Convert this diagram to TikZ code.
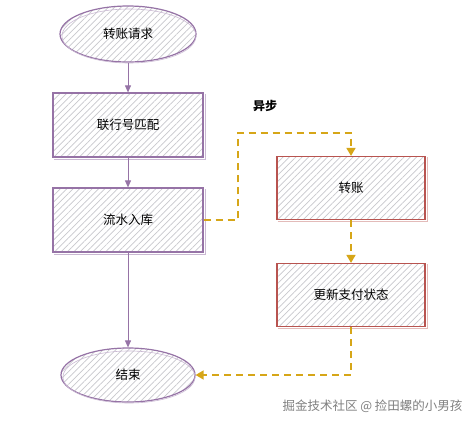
\documentclass[tikz,border=0pt]{standalone}
\usepackage{fontspec}
\setmainfont{Noto Sans CJK SC}
\usetikzlibrary{patterns.meta,arrows.meta,shapes.geometric}
\definecolor{purp}{RGB}{150,115,166}
\definecolor{redb}{RGB}{184,84,80}
\definecolor{gold}{RGB}{214,166,24}
\definecolor{hatch}{RGB}{200,200,205}
\tikzset{
  base/.style={minimum width=150pt,minimum height=64pt,pattern={Lines[angle=45,distance=4.5pt,line width=0.7pt]},pattern color=hatch,line width=1.2pt,font=\fontsize{12.5pt}{14pt}\selectfont,inner sep=0pt},
  pbox/.style={base,draw=purp},
  rbox/.style={base,draw=redb,minimum width=148pt,minimum height=63pt},
  pell/.style={base,draw=purp,ellipse,minimum width=136pt,minimum height=56pt},
  parr/.style={draw=purp,line width=0.9pt,-{Triangle[length=7pt,width=6pt]}},
  garr/.style={draw=gold,line width=1.6pt,dash pattern=on 7pt off 5pt,-{Triangle[length=8pt,width=9pt]}},
}
\begin{document}
\begin{tikzpicture}[x=1pt,y=-1pt]
\useasboundingbox (0,0) rectangle (473,421);
\fill[white] (0,0) rectangle (473,421);
\node[pell] (start) at (128,34) {转账请求};
\node[pbox] (match) at (128,125) {联行号匹配};
\node[pbox] (store) at (128,220) {流水入库};
\node[pell,minimum width=134pt,minimum height=54pt] (end) at (128,375) {结束};
\node[rbox] (trans) at (351,188) {转账};
\node[rbox] (upd) at (351,295) {更新支付状态};
\node[font=\bfseries\fontsize{12pt}{14pt}\selectfont] (async) at (265,106) {异步};
\node[text=gray,font=\fontsize{12.5pt}{14pt}\selectfont,anchor=east] (wm) at (466,406) {掘金技术社区 @ 捡田螺的小男孩};
% sketch offsets
\draw[purp!50,line width=0.6pt] ([shift={(1.5,1.5)}]match.south west) -- ([shift={(1.5,1.5)}]match.south east) -- ([shift={(1.5,1.5)}]match.north east);
\draw[purp!50,line width=0.6pt] ([shift={(1.5,1.5)}]store.south west) -- ([shift={(1.5,1.5)}]store.south east) -- ([shift={(1.5,1.5)}]store.north east);
\draw[redb!40,line width=0.6pt] ([shift={(1.5,1.5)}]trans.south west) -- ([shift={(1.5,1.5)}]trans.south east) -- ([shift={(1.5,1.5)}]trans.north east);
\draw[redb!40,line width=0.6pt] ([shift={(1.5,1.5)}]upd.south west) -- ([shift={(1.5,1.5)}]upd.south east) -- ([shift={(1.5,1.5)}]upd.north east);
\draw[purp!50,line width=0.6pt] ([shift={(1,2)}]start.center) ellipse (67pt and 27pt);
\draw[purp!50,line width=0.6pt] ([shift={(1,2)}]end.center) ellipse (66pt and 26pt);
% connectors
\draw[parr] (start) -- (match);
\draw[parr] (match) -- (store);
\draw[parr] (store) -- (end);
\coordinate (c1) at (238,133);
\draw[garr] (store.east) -| (c1) -| (trans.north);
\draw[garr] (trans) -- (upd);
\draw[garr] (upd.south) |- (end.east);
\end{tikzpicture}
\end{document}
